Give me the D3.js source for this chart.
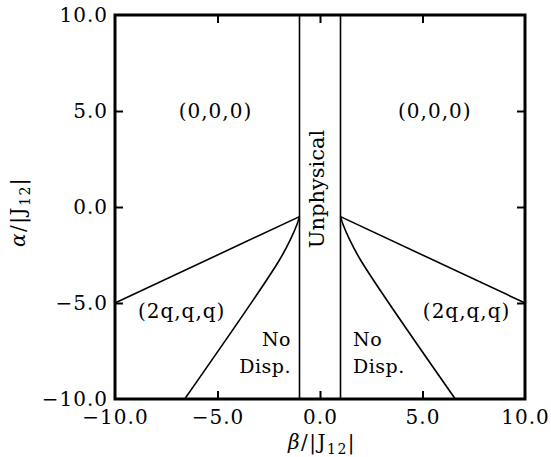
<!DOCTYPE html>
<html>
<head>
<meta charset="utf-8">
<script src="https://cdn.jsdelivr.net/npm/d3@7"></script>
<style>
  html, body { margin: 0; padding: 0; background: #fff; }
  svg { display: block; }
  text { font-family: "DejaVu Serif", serif; fill: #000; }
</style>
</head>
<body>
<svg id="chart" width="551" height="457"></svg>
<script>
// Axis ranges and ticks
const xDomain = [-10, 10];
const yDomain = [-10, 10];
const tickValues = [-10, -5, 0, 5, 10];
const tickLabels = ["\u221210.0", "\u22125.0", "0.0", "5.0", "10.0"];

// Unphysical strip boundaries (beta = +/- 1)
const stripEdges = [-1, 1];

// Phase boundaries, left half (beta, alpha); right half mirrors in beta
const upperBoundary = [[-1.0, -0.5], [-10, -5]];
const lowerBoundary = [[-1.0, -0.5], [-1.12, -0.9], [-1.4, -1.6], [-2.0, -2.8], [-6.6, -10]];

// Region labels
const regionLabels = [
  { text: "(0,0,0)", beta: -5.1, alpha: 4.9 },
  { text: "(0,0,0)", beta: 5.6, alpha: 4.9 },
  { text: "(2q,q,q)", beta: -6.75, alpha: -5.5 },
  { text: "(2q,q,q)", beta: 7.15, alpha: -5.5 }
];
const noDispLines = ["No", "Disp."];

const svg = d3.select("#chart");
const margin = { left: 115, right: 26, top: 15, bottom: 58 };
const W = 551, H = 457;

const x = d3.scaleLinear().domain(xDomain).range([margin.left, W - margin.right]);
const y = d3.scaleLinear().domain(yDomain).range([H - margin.bottom, margin.top]);

const line = d3.line().x(d => x(d[0])).y(d => y(d[1]));
const curve = d3.line().x(d => x(d[0])).y(d => y(d[1])).curve(d3.curveCatmullRom.alpha(0.5));

// Inward ticks on all four sides
const tickLen = 8;
const axisGroups = [
  { axis: d3.axisBottom(x), transform: `translate(0,${y(-10)})`, showLabels: true, pad: 11 },
  { axis: d3.axisTop(x), transform: `translate(0,${y(10)})`, showLabels: false, pad: 8 },
  { axis: d3.axisLeft(y), transform: `translate(${x(-10)},0)`, showLabels: true, pad: 7 },
  { axis: d3.axisRight(y), transform: `translate(${x(10)},0)`, showLabels: false, pad: 8 }
];
axisGroups.forEach(a => {
  const g = svg.append("g")
    .attr("transform", a.transform)
    .call(a.axis.tickValues(tickValues)
      .tickFormat((d, k) => a.showLabels ? tickLabels[k] : "")
      .tickSizeInner(-tickLen).tickSizeOuter(0).tickPadding(a.pad));
  g.select(".domain").remove();
  g.selectAll(".tick line").attr("stroke", "#000").attr("stroke-width", 2);
  g.selectAll(".tick text")
    .style("font-family", '"DejaVu Serif", serif')
    .style("font-size", "20px")
    .style("letter-spacing", "1px")
    .attr("fill", "#000");
});
// Drop ticks that sit on the frame corners
svg.selectAll(".tick").filter(d => d === -10 || d === 10).selectAll("line").remove();

// Unphysical strip edges
svg.selectAll(".strip").data(stripEdges).enter().append("line")
  .attr("class", "strip")
  .attr("x1", d => x(d)).attr("x2", d => x(d))
  .attr("y1", y(10)).attr("y2", y(-10))
  .attr("stroke", "#000").attr("stroke-width", 1.6);

// Phase boundaries
const mirror = pts => pts.map(p => [-p[0], p[1]]);
[[upperBoundary, line], [lowerBoundary, curve],
 [mirror(upperBoundary), line], [mirror(lowerBoundary), curve]].forEach(([pts, gen]) => {
  svg.append("path")
    .attr("d", gen(pts))
    .attr("fill", "none")
    .attr("stroke", "#000")
    .attr("stroke-width", 1.6);
});

// Frame
svg.append("rect")
  .attr("x", x(-10)).attr("y", y(10))
  .attr("width", x(10) - x(-10)).attr("height", y(-10) - y(10))
  .attr("fill", "none").attr("stroke", "#000").attr("stroke-width", 3);

// Region labels
svg.selectAll(".region").data(regionLabels).enter().append("text")
  .attr("class", "region")
  .attr("x", d => x(d.beta)).attr("y", d => y(d.alpha))
  .attr("text-anchor", "middle")
  .attr("dominant-baseline", "middle")
  .style("font-size", "20px")
  .style("letter-spacing", "1px")
  .text(d => d.text);

// "No Disp." labels either side of the strip
const leftNd = svg.append("text").attr("text-anchor", "end").style("font-size", "19px").style("letter-spacing", "0.5px");
const rightNd = svg.append("text").attr("text-anchor", "start").style("font-size", "19px").style("letter-spacing", "0.5px");
noDispLines.forEach((t, i) => {
  leftNd.append("tspan").attr("x", 291).attr("y", 346 + i * 27).text(t);
  rightNd.append("tspan").attr("x", 353).attr("y", 346 + i * 27).text(t);
});

// Unphysical, rotated inside the strip
svg.append("text")
  .attr("transform", `translate(${x(0) + 4},189) rotate(-90)`)
  .attr("text-anchor", "middle")
  .style("font-size", "21px")
  .text("Unphysical");

// Axis titles
const xTitle = svg.append("text")
  .attr("x", x(0) + 2).attr("y", 449)
  .attr("text-anchor", "middle")
  .style("font-size", "20px")
  .style("letter-spacing", "1.5px");
xTitle.append("tspan").style("font-style", "italic").text("\u03b2");
xTitle.append("tspan").text("/|J");
xTitle.append("tspan").attr("dy", 5).style("font-size", "14px").text("12");
xTitle.append("tspan").attr("dy", -5).text("|");

const yTitle = svg.append("text")
  .attr("transform", `translate(25,212) rotate(-90)`)
  .attr("text-anchor", "middle")
  .style("font-size", "20px")
  .style("letter-spacing", "1.5px");
yTitle.append("tspan").style("font-style", "italic").text("\u03b1");
yTitle.append("tspan").text("/|J");
yTitle.append("tspan").attr("dy", 5).style("font-size", "14px").text("12");
yTitle.append("tspan").attr("dy", -5).text("|");
</script>
</body>
</html>
